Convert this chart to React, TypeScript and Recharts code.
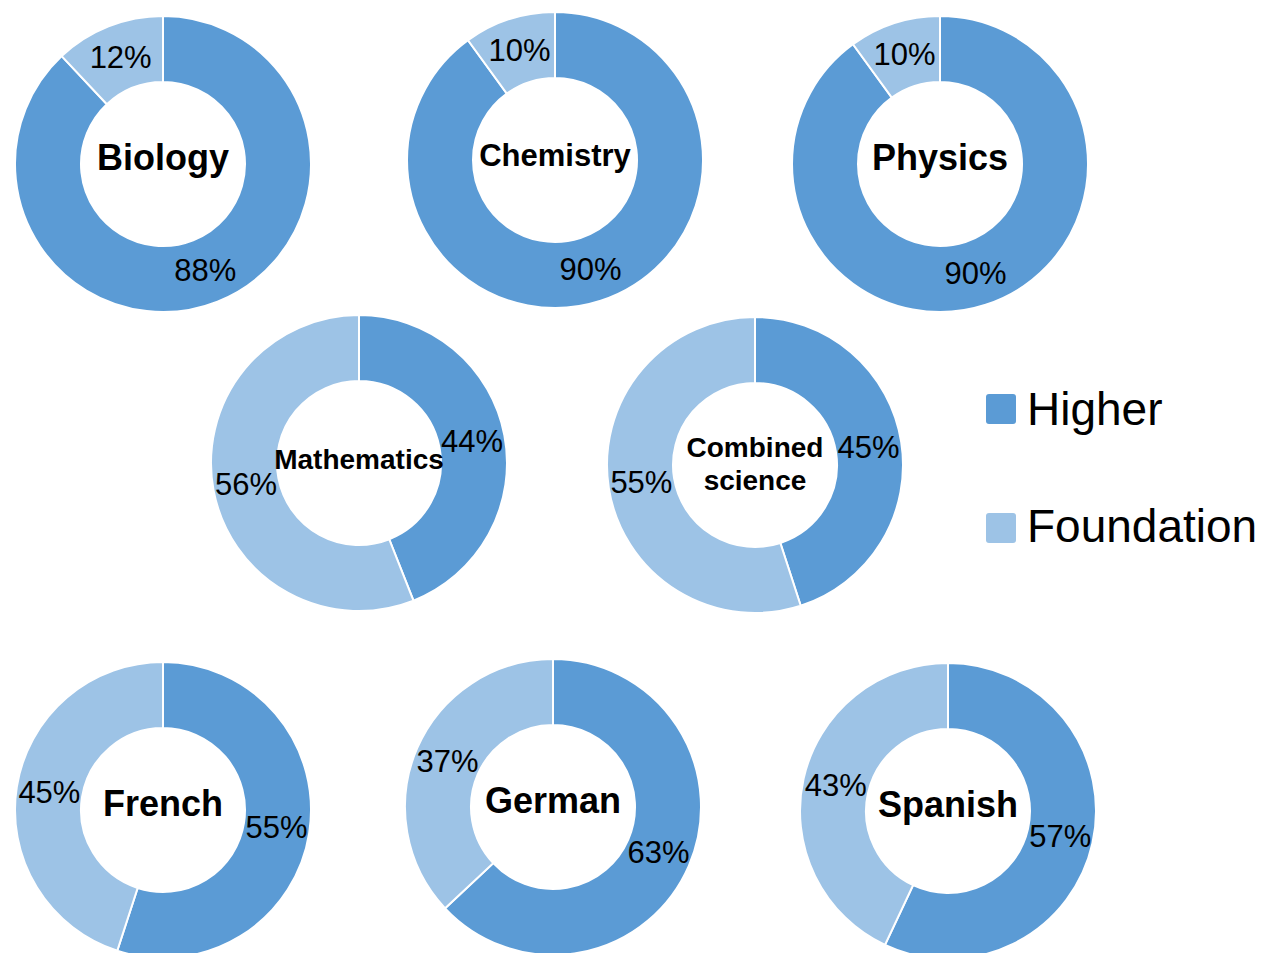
import { PieChart, Pie, Cell, Label } from "recharts";

const subjects = [
  "Biology",
  "Chemistry",
  "Physics",
  "Mathematics",
  "Combined science",
  "French",
  "German",
  "Spanish",
];
const higher = [88, 90, 90, 44, 45, 55, 63, 57];
const foundation = [12, 10, 10, 56, 55, 45, 37, 43];
const tiers = ["Higher", "Foundation"];

const COLORS = ["#5b9bd5", "#9dc3e6"];
const FONT = '"Liberation Sans", Arial, sans-serif';

// centre of each donut on the page, and title size
const layout = [
  { x: 162.5, y: 164, fs: 36 },
  { x: 554.5, y: 160, fs: 31 },
  { x: 940, y: 163.5, fs: 36 },
  { x: 358.5, y: 462.5, fs: 28 },
  { x: 755, y: 464.5, fs: 28 },
  { x: 163, y: 809.5, fs: 36 },
  { x: 552.5, y: 806.5, fs: 36 },
  { x: 947.5, y: 810.5, fs: 36 },
];

const SIZE = 310;
const OUTER = 148;
const INNER = 82;
const RAD = Math.PI / 180;
const NO_MARGIN = { top: 0, right: 0, bottom: 0, left: 0 };

function PercentLabel(props: any) {
  const { cx, cy, midAngle, innerRadius, outerRadius, value } = props;
  const r = (innerRadius + outerRadius) / 2;
  const x = cx + r * Math.cos(-midAngle * RAD);
  const y = cy + r * Math.sin(-midAngle * RAD);
  return (
    <text
      x={x}
      y={y}
      textAnchor="middle"
      dominantBaseline="central"
      fontFamily={FONT}
      fontSize={31}
      fill="#000"
    >
      {value}%
    </text>
  );
}

function Donut({ index }: { index: number }) {
  const pos = layout[index];
  const name = subjects[index];
  const data = [
    { name: tiers[0], value: higher[index] },
    { name: tiers[1], value: foundation[index] },
  ];
  const lines = name.split(" ");
  return (
    <div
      style={{
        position: "absolute",
        left: pos.x - SIZE / 2,
        top: pos.y - SIZE / 2,
        width: SIZE,
        height: SIZE,
      }}
    >
      <PieChart width={SIZE} height={SIZE} margin={NO_MARGIN}>
        <Pie
          data={data}
          dataKey="value"
          cx="50%"
          cy="50%"
          innerRadius={INNER}
          outerRadius={OUTER}
          startAngle={90}
          endAngle={-270}
          stroke="#ffffff"
          strokeWidth={2}
          label={PercentLabel}
          labelLine={false}
          isAnimationActive={false}
        >
          {data.map((d, i) => (
            <Cell key={d.name} fill={COLORS[i]} />
          ))}
          <Label
            position="center"
            content={(p: any) => {
              const vb = p.viewBox || {};
              const cx = vb.cx ?? SIZE / 2;
              const cy = vb.cy ?? SIZE / 2;
              if (lines.length > 1) {
                return (
                  <text
                    textAnchor="middle"
                    fontFamily={FONT}
                    fontWeight="bold"
                    fontSize={pos.fs}
                    fill="#000"
                  >
                    <tspan x={cx} y={cy - 8}>
                      {lines[0]}
                    </tspan>
                    <tspan x={cx} y={cy + 25}>
                      {lines[1]}
                    </tspan>
                  </text>
                );
              }
              return (
                <text
                  x={cx}
                  y={cy + 6}
                  textAnchor="middle"
                  fontFamily={FONT}
                  fontWeight="bold"
                  fontSize={pos.fs}
                  fill="#000"
                >
                  {name}
                </text>
              );
            }}
          />
        </Pie>
      </PieChart>
    </div>
  );
}

function TierLegend() {
  const rows = [
    { y: 394, base: 425 },
    { y: 513, base: 542 },
  ];
  return (
    <svg
      width={300}
      height={200}
      style={{ position: "absolute", left: 969, top: 370 }}
    >
      {tiers.map((t, i) => (
        <g key={t}>
          <rect
            x={986 - 969}
            y={rows[i].y - 370}
            width={30}
            height={30}
            rx={3}
            fill={COLORS[i]}
          />
          <text
            x={1027 - 969}
            y={rows[i].base - 370}
            fontFamily={FONT}
            fontSize={46}
            fill="#000"
          >
            {t}
          </text>
        </g>
      ))}
    </svg>
  );
}

export default function App() {
  return (
    <div
      style={{
        position: "absolute",
        left: 0,
        top: 0,
        width: 1269,
        height: 953,
        overflow: "hidden",
        background: "#fff",
      }}
    >
      {subjects.map((s, i) => (
        <Donut key={s} index={i} />
      ))}
      <TierLegend />
    </div>
  );
}
